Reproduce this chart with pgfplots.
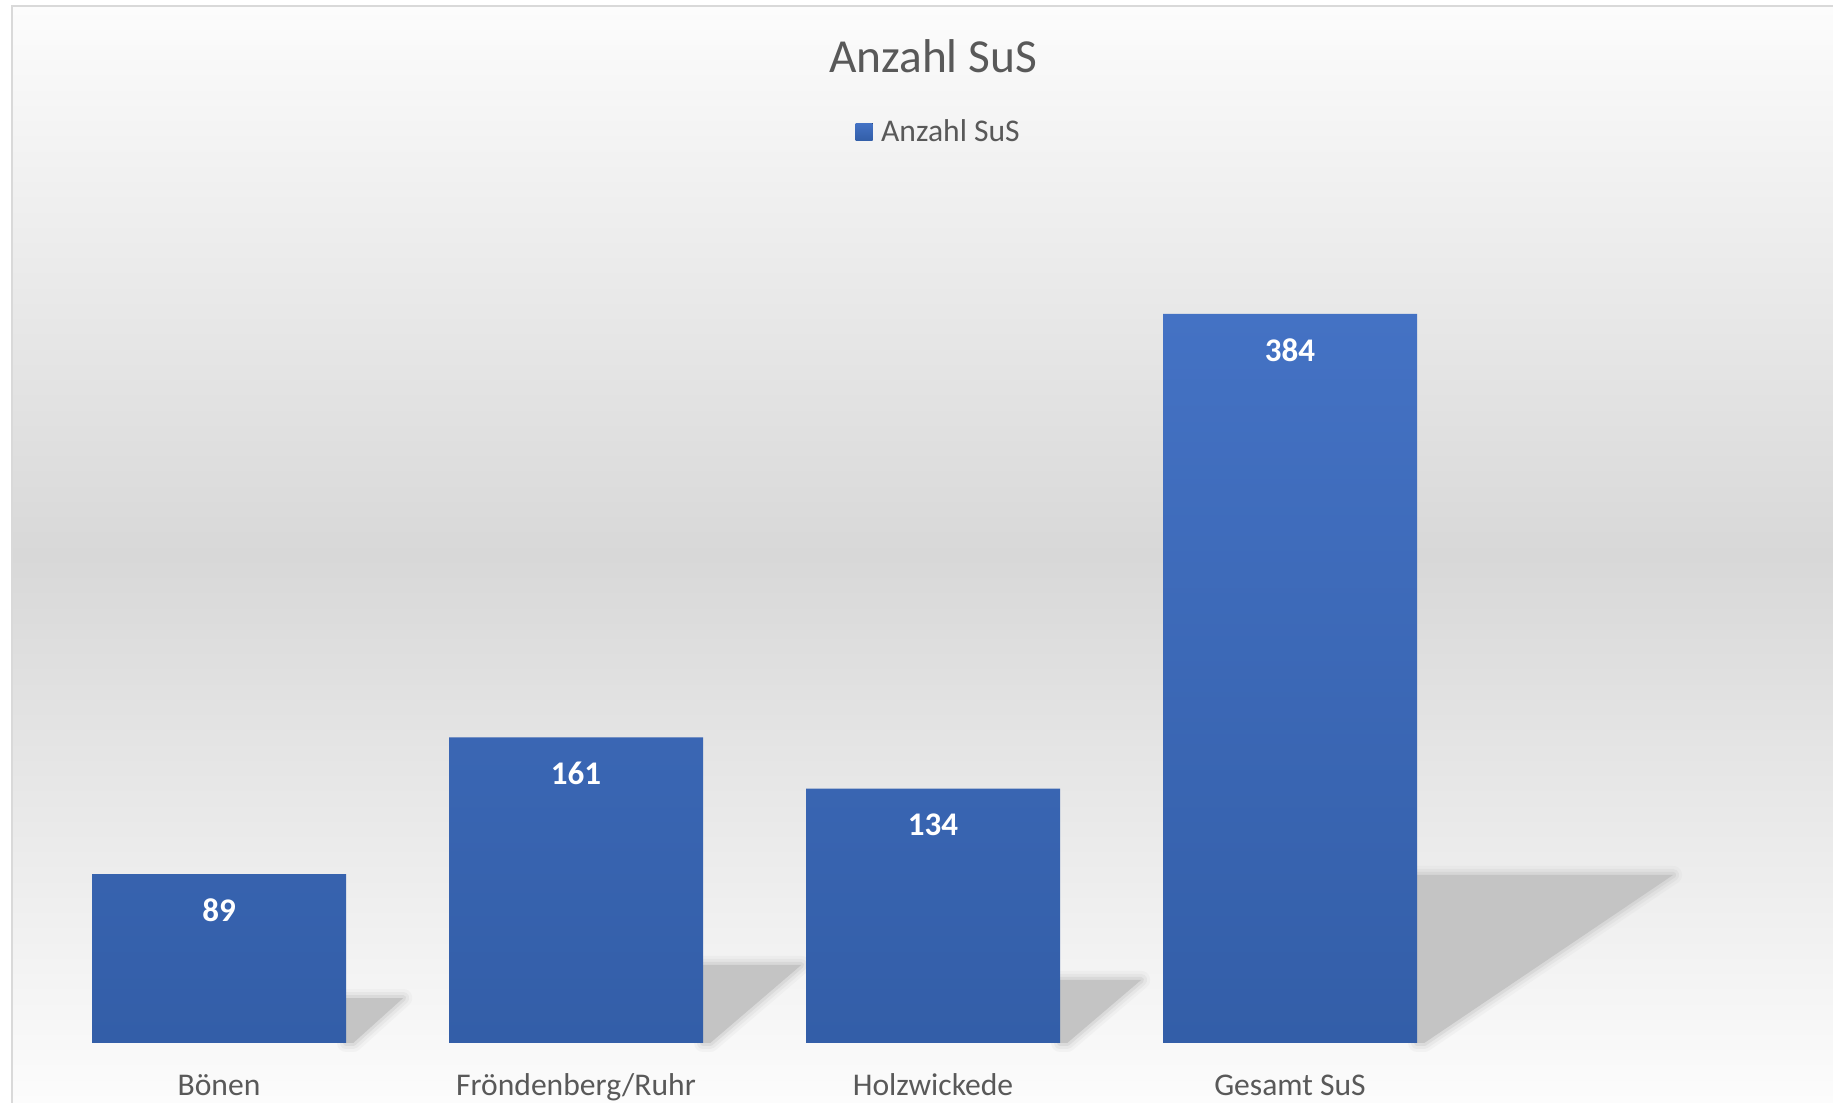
\documentclass[border=0pt]{standalone}
\usepackage{fontspec}
\setmainfont{Carlito}
\usepackage{pgfplots}
\pgfplotsset{compat=1.18}
\definecolor{txt}{RGB}{89,89,89}
\definecolor{bartop}{RGB}{68,114,196}
\definecolor{barbot}{RGB}{51,94,168}
\definecolor{shd}{RGB}{196,196,196}
\definecolor{bgmid}{RGB}{216,216,216}
\definecolor{bgtop}{RGB}{252,252,252}
\definecolor{frame}{RGB}{217,217,217}

% blurred shadow: x of bar edge, shadow height, top-right x
\newcommand\shadowpath[3]{(axis cs:#1,0) -- (axis cs:#1,#2) -- (axis cs:#3,#2) -- (axis cs:#1+0.02,0) -- cycle}
\newcommand\barshadow[3]{%
  \draw[shd, opacity=0.12, line width=9pt, line join=round] \shadowpath{#1}{#2}{#3};
  \draw[shd, opacity=0.2, line width=6pt, line join=round] \shadowpath{#1}{#2}{#3};
  \draw[shd, opacity=0.35, line width=3pt, line join=round] \shadowpath{#1}{#2}{#3};
  \fill[shd] \shadowpath{#1}{#2}{#3};}

\begin{document}
\begin{tikzpicture}
\path[use as bounding box] (0,0) rectangle (916.5pt,551.5pt);
\fill[white] (0,0) rectangle (916.5pt,551.5pt);
\shade[top color=bgtop, bottom color=bgtop, middle color=bgmid] (6pt,0) rectangle (916.5pt,548.25pt);
\draw[frame, line width=1pt] (6pt,0) -- (6pt,548.25pt) -- (916.5pt,548.25pt);
\begin{axis}[
    at={(20.25pt,30pt)}, anchor=south west,
    scale only axis, width=714pt, height=427.15pt,
    xmin=-0.5, xmax=3.5, ymin=0, ymax=450,
    clip=false,
    axis line style={draw=none}, tick style={draw=none},
    ytick=\empty,
    xtick={0,1,2,3},
    xticklabels={Bönen,Fröndenberg/Ruhr,Holzwickede,Gesamt SuS},
    xticklabel style={anchor=base, yshift=-22pt, font=\fontsize{15.8}{19}\selectfont, text=txt},
    ybar, bar width=127pt,
    nodes near coords,
    every node near coord/.append style={anchor=center, yshift=-18pt, text=white,
        font=\bfseries\fontsize{16.5}{19}\selectfont},
    /pgf/number format/assume math mode=true,
    title={Anzahl SuS},
    title style={at={(axis description cs:0.625,1.1405)}, anchor=center,
        font=\fontsize{23.7}{28}\selectfont, text=txt},
    legend style={at={(axis description cs:0.6297,1.0664)}, anchor=center,
        draw=none, fill=none, font=\fontsize{15.8}{19}\selectfont, text=txt},
    legend image code/.code={\fill[top color=bartop, bottom color=barbot]
        (0pt,-4.25pt) rectangle (8.5pt,4.25pt);
        \path (0pt,0pt) -- (10.8pt,0pt);},
]
% soft shadows behind the bars
\barshadow{0.356}{23.7}{0.516}
\barshadow{1.356}{41.1}{1.631}
\barshadow{2.356}{33.2}{2.583}
\barshadow{3.356}{88.5}{4.073}

\addplot[draw=none, top color=bartop, bottom color=barbot]
  coordinates {(0,89) (1,161) (2,134) (3,384)};
\addlegendentry{Anzahl SuS}
\end{axis}
\end{tikzpicture}
\end{document}
